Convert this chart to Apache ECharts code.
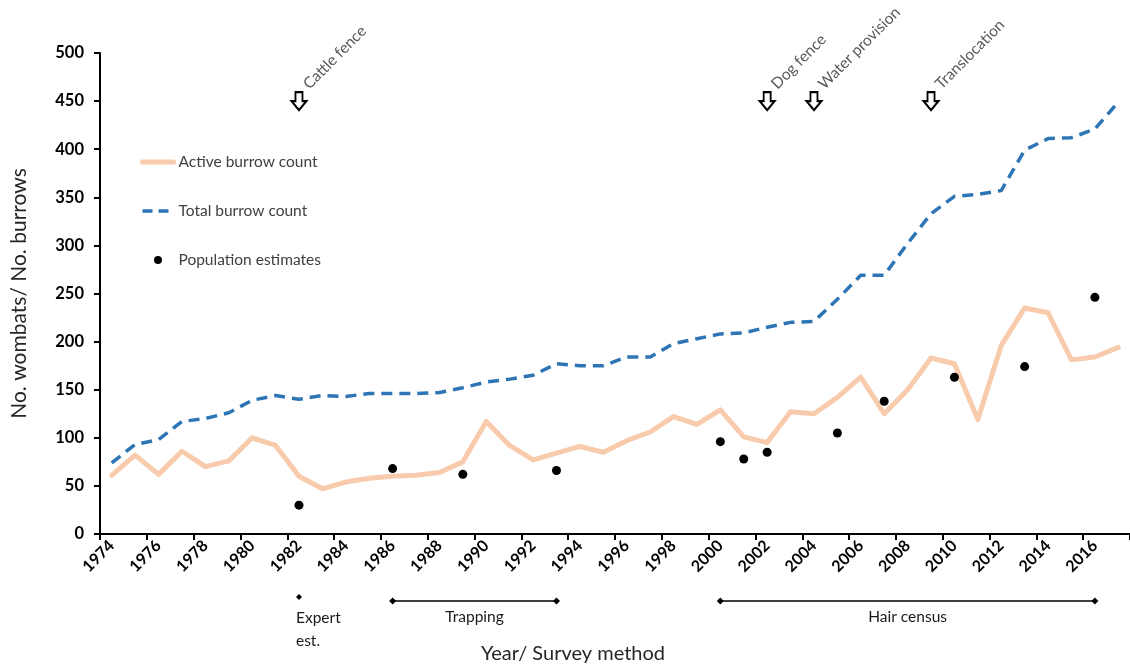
<!DOCTYPE html>
<html>
<head>
<meta charset="utf-8">
<script src="https://cdn.jsdelivr.net/npm/echarts@6/dist/echarts.min.js"></script>
<style>
  html, body { margin: 0; padding: 0; background: #ffffff; }
  #chart { width: 1130px; height: 664px; }
</style>
</head>
<body>
<div id="chart"></div>
<script>
// Survey years (one category per year)
const years = ['1974','1975','1976','1977','1978','1979','1980','1981','1982','1983','1984',
  '1985','1986','1987','1988','1989','1990','1991','1992','1993','1994','1995','1996',
  '1997','1998','1999','2000','2001','2002','2003','2004','2005','2006','2007','2008',
  '2009','2010','2011','2012','2013','2014','2015','2016','2017'];

// Active burrows counted each year
const activeBurrows = [61,82,62,86,70,76,100,92,60,47,54,58,60,
  61,64,75,117,92,77,84,91,85,97,106,122,114,129,101,
  95,127,125,142,163,125,150,183,177,119,196,235,230,181,184,194];

// Total burrows counted each year
const totalBurrows = [74,93,98,117,120,126,139,144,140,144,143,146,146,
  146,147,152,158,161,165,177,175,175,184,184,198,203,208,209,215,
  220,221,244,269,269,302,333,351,353,357,399,411,412,421,449];

// Population estimates (years with a survey only)
const popYears  = ['1982','1986','1989','1993','2000','2001','2002','2005','2007','2010','2013','2016'];
const popValues = [30,68,62,66,96,78,85,105,138,163,174,246];

// Management events marked with arrows above the lines
const eventYears  = ['1982','2002','2004','2009'];
const eventLabels = ['Cattle fence','Dog fence','Water provision','Translocation'];
const eventLevel  = 450;

// Survey methods shown under the year axis
const methodLabels = ['Expert\nest.','Trapping','Hair census'];
const methodStart  = ['1982','1986','2000'];
const methodEnd    = ['1982','1993','2016'];

const FONT = 'Lato, "Open Sans", sans-serif';
const ACTIVE_COLOR = '#F8CBAD';
const TOTAL_COLOR = '#2E75B6';

const chart = echarts.init(document.getElementById('chart'), null, { renderer: 'canvas' });

// hollow down-pointing arrow
const arrowPath = 'path://M4,0 L11,0 L11,9 L15,9 L7.5,18 L0,9 L4,9 Z';

chart.setOption({
  animation: false,
  backgroundColor: '#ffffff',
  grid: { left: 100, right: 0, top: 53, bottom: 130, containLabel: false, outerBoundsMode: 'none' },
  legend: {
    data: [
      { name: 'Active burrow count', itemStyle: { opacity: 0 },
        lineStyle: { color: ACTIVE_COLOR, width: 5 } },
      { name: 'Total burrow count', itemStyle: { opacity: 0 },
        lineStyle: { color: TOTAL_COLOR, width: 3.5, type: [10, 6] } },
      { name: 'Population estimates' }
    ],
    orient: 'vertical',
    left: 140,
    top: 154,
    padding: 0,
    itemGap: 33,
    itemWidth: 31,
    itemHeight: 8,
    textStyle: { fontFamily: FONT, fontSize: 15.5, color: '#404040', lineHeight: 15 }
  },
  xAxis: {
    type: 'category',
    data: years,
    boundaryGap: true,
    name: 'Year/ Survey method',
    nameLocation: 'middle',
    nameGap: 110,
    nameTextStyle: { fontFamily: FONT, fontSize: 20, color: '#262626', padding: [0, 84, 0, 0] },
    axisLine: { show: true, lineStyle: { color: '#000000', width: 2 } },
    axisTick: { show: true, interval: 1, length: 6, lineStyle: { color: '#000000', width: 2 } },
    axisLabel: {
      interval: 1, rotate: 45, margin: 9,
      fontFamily: FONT, fontSize: 16, fontWeight: 'bold', color: '#000000'
    },
    splitLine: { show: false }
  },
  yAxis: {
    type: 'value',
    min: 0, max: 500, interval: 50,
    name: 'No. wombats/ No. burrows',
    nameLocation: 'middle',
    nameRotate: 90,
    nameGap: 70,
    nameTextStyle: { fontFamily: FONT, fontSize: 21, color: '#262626' },
    axisLine: { show: true, lineStyle: { color: '#000000', width: 2 } },
    axisTick: { show: true, length: 6, lineStyle: { color: '#000000', width: 2 } },
    axisLabel: { margin: 16, fontFamily: FONT, fontSize: 16.5, fontWeight: 'bold', color: '#000000' },
    splitLine: { show: false }
  },
  series: [
    {
      name: 'Active burrow count',
      type: 'line',
      data: activeBurrows,
      symbol: 'none',
      color: ACTIVE_COLOR,
      lineStyle: { color: ACTIVE_COLOR, width: 5, cap: 'round', join: 'round' },
      z: 2
    },
    {
      name: 'Total burrow count',
      type: 'line',
      data: totalBurrows,
      symbol: 'none',
      color: TOTAL_COLOR,
      lineStyle: { color: TOTAL_COLOR, width: 3.5, type: [11, 7] },
      z: 3
    },
    {
      name: 'Population estimates',
      type: 'scatter',
      data: popYears.map((y, i) => [y, popValues[i]]),
      symbol: 'circle',
      symbolSize: 9,
      color: '#000000',
      itemStyle: { color: '#000000', opacity: 1 },
      z: 4
    },
    {
      name: 'events',
      type: 'scatter',
      data: eventYears.map((y, i) => ({ value: [y, eventLevel], label: { formatter: eventLabels[i] } })),
      symbol: arrowPath,
      symbolSize: [15, 18],
      symbolKeepAspect: false,
      itemStyle: { color: '#ffffff', borderColor: '#000000', borderWidth: 2, opacity: 1 },
      label: {
        show: true,
        position: [21, 1],
        rotate: 45,
        align: 'left',
        verticalAlign: 'bottom',
        fontFamily: FONT,
        fontSize: 15.5,
        color: '#595959'
      },
      emphasis: { disabled: true },
      z: 5
    }
  ]
});

// Survey-method spans drawn under the axis, placed through the category scale
const LINE_Y = 601;
const graphics = [];
methodLabels.forEach((label, i) => {
  const xs = chart.convertToPixel({ xAxisIndex: 0 }, methodStart[i]);
  const xe = chart.convertToPixel({ xAxisIndex: 0 }, methodEnd[i]);
  if (methodStart[i] === methodEnd[i]) {
    graphics.push({
      type: 'polygon',
      shape: { points: [[xs, 594], [xs + 3, 597], [xs, 600], [xs - 3, 597]] },
      style: { fill: '#000000' }
    });
    graphics.push({
      type: 'text',
      x: xs - 3, y: 606,
      style: {
        text: label, fill: '#1a1a1a', font: '15.5px ' + FONT,
        align: 'left', verticalAlign: 'top', lineHeight: 23
      }
    });
  } else {
    graphics.push({
      type: 'line',
      shape: { x1: xs, y1: LINE_Y, x2: xe, y2: LINE_Y },
      style: { stroke: '#000000', lineWidth: 1.5 }
    });
    [xs, xe].forEach(x => graphics.push({
      type: 'polygon',
      shape: { points: [[x, LINE_Y - 3.5], [x + 3.5, LINE_Y], [x, LINE_Y + 3.5], [x - 3.5, LINE_Y]] },
      style: { fill: '#000000' }
    }));
    graphics.push({
      type: 'text',
      x: (xs + xe) / 2, y: 617,
      style: {
        text: label, fill: '#1a1a1a', font: '15.5px ' + FONT,
        align: 'center', verticalAlign: 'middle'
      }
    });
  }
});
chart.setOption({ graphic: graphics });
</script>
</body>
</html>
